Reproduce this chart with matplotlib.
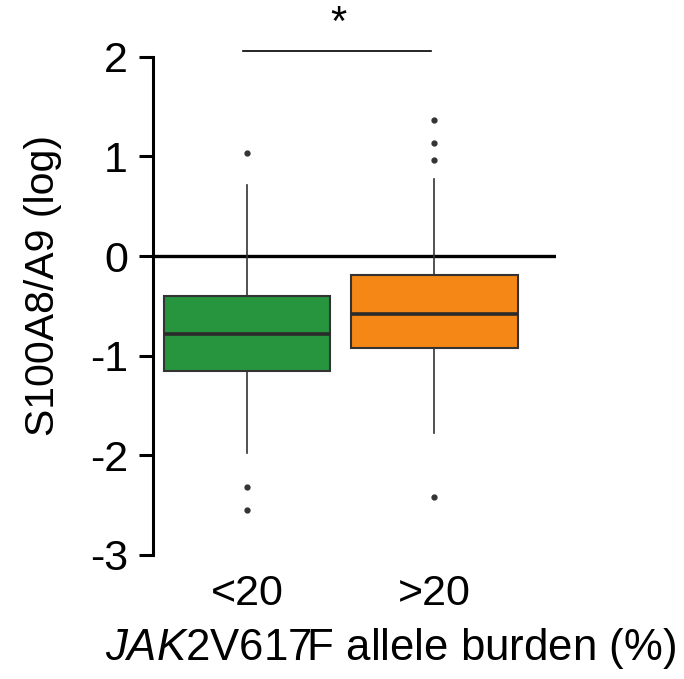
import matplotlib
matplotlib.use('Agg')
import matplotlib.pyplot as plt

plt.rcParams['font.family'] = ['Liberation Sans', 'DejaVu Sans']
plt.rcParams['mathtext.fontset'] = 'custom'
plt.rcParams['mathtext.rm'] = 'Liberation Sans'
plt.rcParams['mathtext.it'] = 'Liberation Sans:italic'

# Datos (escala log)
grupos = ['<20', '>20']
medianas = [-0.78, -0.58]
q1 = [-1.15, -0.92]
q3 = [-0.40, -0.19]
bigote_sup = [0.71, 0.77]
bigote_inf = [-1.98, -1.78]
atipicos = [[1.03, -2.32, -2.55], [1.37, 1.14, 0.96, -2.42]]
colores = ['#27943e', '#f58716']

stats = []
for i in range(len(grupos)):
    stats.append({'med': medianas[i], 'q1': q1[i], 'q3': q3[i],
                  'whislo': bigote_inf[i], 'whishi': bigote_sup[i],
                  'fliers': atipicos[i], 'label': grupos[i]})

fig = plt.figure(figsize=(6.84, 6.79), dpi=100)
ax = fig.add_axes([153 / 684, 1 - 555 / 679, 403 / 684, 538 / 679])

bp = ax.bxp(stats, positions=[0, 1], widths=0.89, patch_artist=True,
            showcaps=False,
            boxprops=dict(edgecolor='#333333', linewidth=1.5),
            medianprops=dict(color='#2a2a2a', linewidth=2.6),
            whiskerprops=dict(color='#333333', linewidth=1.2),
            flierprops=dict(marker='o', markersize=3.5, markerfacecolor='#333333',
                            markeredgecolor='#333333'))
for caja, c in zip(bp['boxes'], colores):
    caja.set_facecolor(c)

ax.axhline(0, color='black', linewidth=2.4, zorder=0)

ax.set_xlim(-0.503, 1.65)
ax.set_ylim(-3, 2.4)
ax.set_yticks([-3, -2, -1, 0, 1, 2])
ax.set_yticklabels(['-3', '-2', '-1', '0', '1', '2'])
ax.tick_params(axis='y', labelsize=31, length=10, width=2.2, pad=8)
ax.tick_params(axis='x', labelsize=31, length=0, pad=14)
ax.spines['left'].set_bounds(-3, 2)
ax.spines['left'].set_linewidth(2.2)
for s in ['top', 'right', 'bottom']:
    ax.spines[s].set_visible(False)

# Barra de significancia
ax.plot([-0.02, 0.98], [2.06, 2.06], color='black', linewidth=1.2, clip_on=False)
ax.text(0.49, 2.134, '*', ha='center', va='bottom', fontsize=30)

ax.set_ylabel('S100A8/A9 (log)', fontsize=29.5, labelpad=20)
ax.set_xlabel(r'$\it{JAK}$2V617F allele burden (%)', fontsize=31.5, labelpad=8, x=0.59)

plt.savefig('out.png', dpi=100)
plt.close('all')
